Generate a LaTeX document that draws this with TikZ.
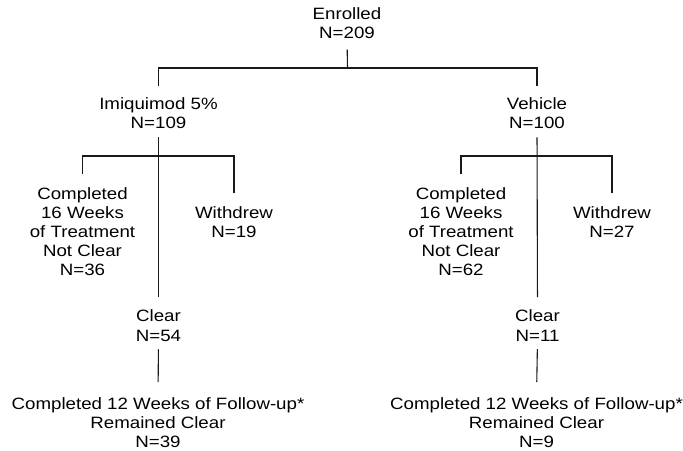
\documentclass[tikz,border=0pt]{standalone}
\usepackage{fontspec}
\setmainfont{Liberation Sans}[FakeStretch=1.14]
\begin{document}
\begin{tikzpicture}[x=1pt,y=-1pt,
  lbl/.style={align=center,inner sep=0pt,outer sep=0pt,anchor=north,
    font=\fontsize{16.4}{19.2}\selectfont},
  conn/.style={line width=1.1pt,draw=black!90}]
\useasboundingbox (0,0) rectangle (683,450);
% nodes
\node[lbl] (enr) at (347,7.6) {Enrolled\\N=209};
\node[lbl] (imq) at (158.5,97.6) {Imiquimod 5\%\\N=109};
\node[lbl] (veh) at (537,97.6) {Vehicle\\N=100};
\node[lbl] (compL) at (82.5,187.3) {Completed\\16 Weeks\\of Treatment\\Not Clear\\N=36};
\node[lbl] (wdL) at (234,206.6) {Withdrew\\N=19};
\node[lbl] (clrL) at (158.5,310) {Clear\\N=54};
\node[lbl] (fuL) at (158,397.6) {Completed 12 Weeks of Follow-up*\\Remained Clear\\N=39};
\node[lbl] (compR) at (461,187.3) {Completed\\16 Weeks\\of Treatment\\Not Clear\\N=62};
\node[lbl] (wdR) at (612,206.6) {Withdrew\\N=27};
\node[lbl] (clrR) at (537.5,310) {Clear\\N=11};
\node[lbl] (fuR) at (536.5,397.6) {Completed 12 Weeks of Follow-up*\\Remained Clear\\N=9};
% junctions
\coordinate (j0) at (347.5,68);
\coordinate (jL) at (159,156);
\coordinate (jR) at (538,156);
% connectors
\draw[conn,shorten <=10.5pt] (enr.south) -- (j0);
\draw[conn,shorten <=12pt,shorten >=12pt] (imq.north) -- (imq.north |- j0) -- (veh.north |- j0) -- (veh.north);
\draw[conn,shorten <=13.3pt,shorten >=13.6pt] (compL.north) -- (compL.north |- jL) -- (wdL.north |- jL) -- (wdL.north);
\draw[conn,shorten <=13.3pt,shorten >=13.6pt] (compR.north) -- (compR.north |- jR) -- (wdR.north |- jR) -- (wdR.north);
\draw[conn,shorten <=8.5pt,shorten >=13pt] (imq.south) -- (clrL.north);
\draw[conn,shorten <=8.5pt,shorten >=13pt] (veh.south) -- (clrR.north);
\draw[conn,shorten <=8pt,shorten >=15.6pt] (clrL.south) -- (fuL.north);
\draw[conn,shorten <=8pt,shorten >=15.6pt] (clrR.south) -- (fuR.north);
\end{tikzpicture}
\end{document}
